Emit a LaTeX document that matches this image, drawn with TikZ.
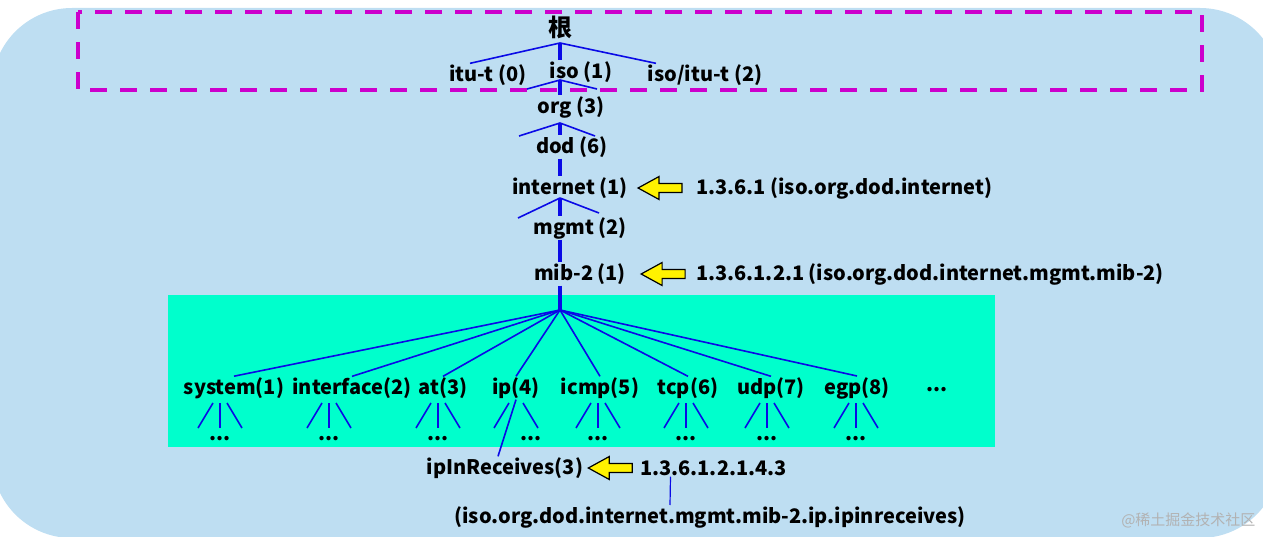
\documentclass[tikz,border=0pt]{standalone}
\usepackage{fontspec}
\setmainfont{Noto Sans CJK SC}
\usetikzlibrary{positioning}

\definecolor{bgblue}{RGB}{190,222,242}
\definecolor{boxgreen}{RGB}{0,255,204}
\definecolor{rootpink}{RGB}{204,0,204}
\definecolor{treeblue}{RGB}{10,10,230}

\begin{document}
\begin{tikzpicture}[x=1pt, y=-1pt,
    lbl/.style={font=\bfseries\fontsize{20}{24}\selectfont, inner sep=1pt},
    oid/.style={lbl, anchor=west},
    dotrow/.style={lbl, inner sep=0pt},
    trunk/.style={treeblue, line width=4.5pt},
    branch/.style={treeblue, line width=1.6pt},
    ptr/.style={fill=yellow, draw=black, line width=1.2pt, line join=miter},
    yarrow/.pic={\draw[ptr] (0,0) -- (21,-11.5) -- (21,-4.5) -- (44,-4.5)
        -- (44,4.5) -- (21,4.5) -- (21,11.5) -- cycle;}]

    \useasboundingbox (0,0) rectangle (1263,537);

    % Background and boxes
    \fill[bgblue, rounded corners=80] (-8,8) rectangle (1280,538);
    \fill[boxgreen] (168,295) rectangle (995,447);
    \draw[rootpink, line width=4pt, dash pattern=on 17pt off 13pt] (78,12) rectangle (1202,90);

    % Upper part of the tree
    \node[lbl, font=\bfseries\fontsize{24}{26}\selectfont] (root) at (560,27) {根};
    \node[lbl] (itu) at (488,75) {itu-t (0)};
    \node[lbl] (iso) at (581,72) {iso (1)};
    \node[lbl] (joint) at (705,75) {iso/itu-t (2)};
    \node[lbl] (org) at (571,107) {org (3)};
    \node[lbl] (dod) at (572,147) {dod (6)};
    \node[lbl] (internet) at (570,188) {internet (1)};
    \node[lbl] (mgmt) at (580,228) {mgmt (2)};
    \node[lbl] (mib) at (580,274) {mib-2 (1)};

    \coordinate (j0) at (560,43);
    \coordinate (j1) at (560,80);
    \coordinate (j2) at (560,123);
    \coordinate (j3) at (560,198);
    \coordinate (j5) at (560,310);

    \draw[branch] (j0) -- ([xshift=-18pt]itu.north);
    \draw[branch] (j0) -- ([xshift=-49pt]joint.north);
    \draw[branch] (j1) -- ++(-33,9) (j1) -- ++(37,9);
    \draw[branch] (j2) -- ++(-41,13) (j2) -- ++(35,13);
    \draw[branch] (j3) -- ++(-42,20) (j3) -- ++(39,15);

    \draw[trunk] (j0) -- (j0 |- iso.north);
    \draw[trunk] (j1) -- (j1 |- org.north);
    \draw[trunk] (j2) -- (j2 |- dod.north);
    \draw[trunk] (j2 |- dod.south) -- (j2 |- internet.north);
    \draw[trunk] (j3) -- (j3 |- mgmt.north);
    \draw[trunk] (j3 |- mgmt.south) -- (j3 |- mib.north);
    \draw[trunk] (j3 |- mib.south) -- (j5);

    % Pointers to the OIDs
    \node[oid] (oid1) at (695,188) {1.3.6.1 (iso.org.dod.internet)};
    \pic at ([xshift=9pt]internet.east) {yarrow};
    \node[oid] (oid2) at (695,274) {1.3.6.1.2.1 (iso.org.dod.internet.mgmt.mib-2)};
    \pic at ([xshift=14pt]mib.east) {yarrow};

    % Groups under mib-2
    \node[lbl] (sys) at (234,388) {system(1)};
    \node[lbl] (intf) at (352,388) {interface(2)};
    \node[lbl] (at) at (443,388) {at(3)};
    \node[lbl] (ip) at (516,388) {ip(4)};
    \node[lbl] (icmp) at (600,388) {icmp(5)};
    \node[lbl] (tcp) at (688,388) {tcp(6)};
    \node[lbl] (udp) at (771,388) {udp(7)};
    \node[lbl] (egp) at (857,388) {egp(8)};
    \node[lbl] (more) at (937,390) {...};

    \foreach \n in {sys,intf,at,ip,icmp,tcp,udp,egp}
        \draw[branch] (j5) -- (\n.north);

    \foreach \n/\m in {sys/220,intf/329,at/438,icmp/598,tcp/686,udp/767,egp/856}{
        \node[dotrow] (d\n) at (\m,439) {...};
        \draw[branch] (\m-7,403) -- (\m-22,428);
        \draw[branch] (\m,403) -- (\m,428);
        \draw[branch] (\m+7,403) -- (\m+22,428);
    }

    \node[dotrow] (dip) at (531,439) {...};
    \draw[branch] (509,403) -- (494,428);
    \draw[branch] (523,403) -- (538,428);

    % ipInReceives
    \node[lbl] (recv) at (505,468) {ipInReceives(3)};
    \draw[branch] (ip.south) -- ([xshift=-7pt]recv.north);
    \node[oid] (oid3) at (639,468) {1.3.6.1.2.1.4.3};
    \pic at ([xshift=4pt]recv.east) {yarrow};
    \node[lbl] (oidfull) at (710,517) {(iso.org.dod.internet.mgmt.mib-2.ip.ipinreceives)};
    \draw[treeblue, line width=1.2pt] ([xshift=-43pt]oid3.south) -- ([xshift=-40pt]oidfull.north);

    \node[text=gray!60, font=\fontsize{15}{15}\selectfont, anchor=east] (mark) at (1259,520) {@稀土掘金技术社区};

\end{tikzpicture}
\end{document}
